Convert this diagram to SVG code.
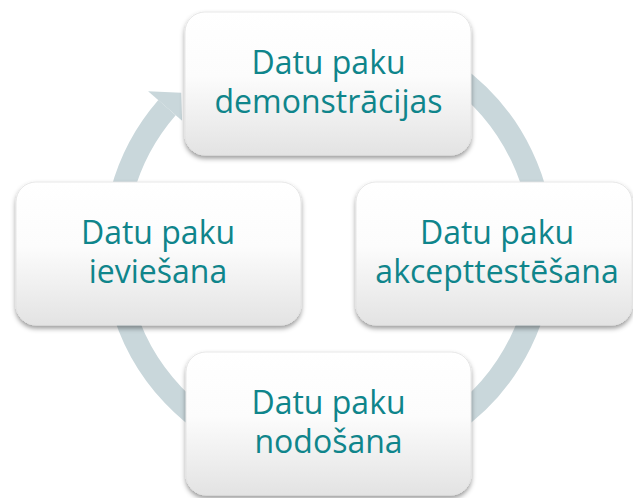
<svg xmlns="http://www.w3.org/2000/svg" width="633" height="498" viewBox="0 0 633 498">
  <defs>
    <linearGradient id="boxFill" x1="0" y1="0" x2="0" y2="1">
      <stop offset="0" stop-color="#ffffff"/>
      <stop offset="0.45" stop-color="#fcfcfc"/>
      <stop offset="1" stop-color="#e3e3e3"/>
    </linearGradient>
    <filter id="shadow" x="-10%" y="-10%" width="120%" height="130%">
      <feDropShadow dx="0" dy="3" stdDeviation="2.5" flood-color="#000" flood-opacity="0.4"/>
    </filter>
  </defs>
  <style>
    .box { fill: url(#boxFill); stroke: #e2e2e2; stroke-width: 0.8; filter: url(#shadow); }
    .lbl { font-family: "Open Sans", "Noto Sans", sans-serif; font-size: 32px; fill: #0F858B; text-anchor: middle; }
    .ring { fill: none; stroke: #C9D7DB; stroke-width: 23; }
    .head { fill: #C9D7DB; }
  </style>

  <g id="connectors">
    <path class="ring" d="M 255.3 46.9 A 214 214 0 1 1 167 107.6"/>
    <polygon class="head" points="148.1,91.2 181.2,92.8 182.1,120.7"/>
  </g>

  <g id="node-demonstracijas">
    <rect class="box" x="185" y="12" width="286" height="143" rx="20" ry="20"/>
    <text class="lbl" x="328.5" y="73.5">Datu paku</text>
    <text class="lbl" x="328.5" y="113">demonstrācijas</text>
  </g>

  <g id="node-akcepttestesana">
    <rect class="box" x="356" y="182" width="276" height="143" rx="20" ry="20"/>
    <text class="lbl" x="497" y="243.5">Datu paku</text>
    <text class="lbl" x="497" y="283">akcepttestēšana</text>
  </g>

  <g id="node-nodosana">
    <rect class="box" x="186" y="352" width="285" height="143" rx="20" ry="20"/>
    <text class="lbl" x="328.5" y="413.5">Datu paku</text>
    <text class="lbl" x="328.5" y="453">nodošana</text>
  </g>

  <g id="node-ieviesana">
    <rect class="box" x="16" y="182" width="285" height="143" rx="20" ry="20"/>
    <text class="lbl" x="158" y="243.5">Datu paku</text>
    <text class="lbl" x="158" y="283">ieviešana</text>
  </g>
</svg>
